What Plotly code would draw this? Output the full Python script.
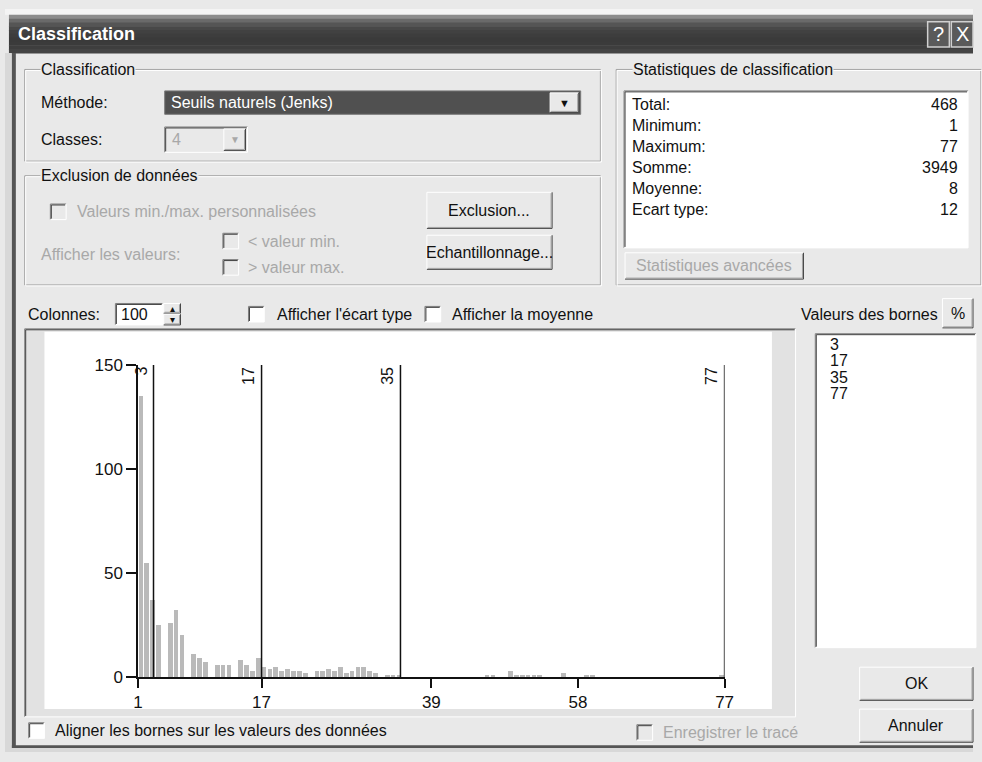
import plotly.graph_objects as go

W, H = 982, 762

# ---------------- data ----------------
x_min, x_max = 1, 77
n_columns = 100
column_counts = [
    135, 55, 37, 25, 0, 26, 32, 20, 0, 11,
    9, 7, 0, 6, 6, 6, 0, 8, 6, 3,
    9, 5, 4, 5, 3, 4, 3, 3, 2, 0,
    3, 3, 4, 3, 5, 2, 3, 5, 5, 3,
    2, 0, 1, 1, 1, 0, 0, 0, 0, 0,
    0, 0, 0, 0, 0, 0, 0, 0, 0, 1,
    1, 0, 0, 3, 1, 1, 1, 1, 1, 0,
    0, 0, 2, 0, 0, 0, 1, 1, 0, 0,
    0, 0, 0, 0, 0, 0, 0, 0, 0, 0,
    0, 0, 0, 0, 0, 0, 0, 0, 0, 1,
]
break_values = [3, 17, 35, 77]
x_tick_values = [1, 17, 39, 58, 77]
y_tick_values = [0, 50, 100, 150]
stat_labels = ["Total:", "Minimum:", "Maximum:", "Somme:", "Moyenne:", "Ecart type:"]
stat_values = [468, 1, 77, 3949, 8, 12]
method_name = "Seuils naturels (Jenks)"
n_classes = 4
n_columns_label = 100

# ---------------- helpers ----------------
FONT = "Liberation Sans Narrow, Liberation Sans, Arial, sans-serif"
BG = "#e9e9e9"
shapes, annots = [], []


def px(x):
    return x / W


def py(y):
    return 1 - y / H


def rect(x0, y0, x1, y1, fill=None, line=None, lw=1, layer="below"):
    shapes.append(dict(type="rect", xref="paper", yref="paper",
                       x0=px(x0), x1=px(x1), y0=py(y1), y1=py(y0),
                       fillcolor=fill if fill else "rgba(0,0,0,0)",
                       line=dict(color=line if line else "rgba(0,0,0,0)", width=lw if line else 0),
                       layer=layer))


def seg(x0, y0, x1, y1, color, lw=1, layer="below"):
    shapes.append(dict(type="line", xref="paper", yref="paper",
                       x0=px(x0), x1=px(x1), y0=py(y0), y1=py(y1),
                       line=dict(color=color, width=lw), layer=layer))


def text(x, y, s, size=16, color="#111", anchor="left", bold=False, bg=None):
    annots.append(dict(x=px(x), y=py(y), xref="paper", yref="paper", text=("<b>%s</b>" % s) if bold else s,
                       showarrow=False, xanchor=anchor, yanchor="middle",
                       font=dict(family=FONT, size=size, color=color),
                       bgcolor=bg, borderpad=0))


def raised(x0, y0, x1, y1, label=None, disabled=False, size=16):
    rect(x0, y0, x1, y1, fill=BG)
    seg(x0, y0, x1, y0, "#ffffff")
    seg(x0, y0, x0, y1, "#ffffff")
    seg(x0, y1, x1, y1, "#404040")
    seg(x1, y0, x1, y1, "#404040")
    seg(x0 + 1, y1 - 1, x1 - 1, y1 - 1, "#a0a0a0")
    seg(x1 - 1, y0 + 1, x1 - 1, y1 - 1, "#a0a0a0")
    if label:
        text((x0 + x1) / 2, (y0 + y1) / 2, label, size=size,
             color="#a8a8a8" if disabled else "#111", anchor="center")


def sunken(x0, y0, x1, y1, fill="#ffffff"):
    rect(x0, y0, x1, y1, fill=fill)
    seg(x0, y0, x1, y0, "#808080")
    seg(x0, y0, x0, y1, "#808080")
    seg(x0 + 1, y0 + 1, x1 - 1, y0 + 1, "#404040")
    seg(x0 + 1, y0 + 1, x0 + 1, y1 - 1, "#404040")
    seg(x0, y1, x1, y1, "#ffffff")
    seg(x1, y0, x1, y1, "#ffffff")


def checkbox(x, yc, disabled=False):
    sunken(x, yc - 8, x + 16, yc + 8, fill="#e9e9e9" if disabled else "#ffffff")


def group(x0, y0, x1, y1, label):
    rect(x0, y0, x1, y1, line="#a0a0a0", lw=1)
    rect(x0 + 1, y0 + 1, x1 + 1, y1 + 1, line="#ffffff", lw=1)
    text(x0 + 16, y0, label, bg=BG)


# ---------------- window chrome ----------------
rect(0, 0, W, H, fill=BG)
rect(0, 0, W, 6, fill="#f4f4f4")
title_cols = ["#8c8c8c", "#6a6a6a", "#555555", "#484848", "#414141", "#3d3d3d",
              "#3a3a3a", "#3b3b3b", "#3e3e3e", "#444444"]
band = 39 / len(title_cols)
for i, c in enumerate(title_cols):
    rect(4, 6 + i * band, W, 6 + (i + 1) * band + 0.6, fill=c)
text(12, 26, "Classification", size=18, color="#ffffff", bold=True)
for bx, lab in [(936, "?"), (960, "X")]:
    rect(bx, 13, bx + 22, 39, fill="#5a5a5a", line="#d0d0d0", lw=1.5)
    text(bx + 11, 26, lab, size=20, color="#ffffff", anchor="center")
rect(0, 45, 7, H, fill="#d8d8d8")
rect(7, 45, 11, 758, fill="#555555")
rect(7, 755, W, 758, fill="#555555")
rect(0, 758, W, H, fill="#d8d8d8")

# ---------------- classification group ----------------
group(20, 62, 604, 156, "Classification")
text(35, 96, "Méthode:")
rect(162, 84, 584, 108, fill="#505050", line="#7a7a7a")
text(167, 96, method_name, color="#ffffff")
raised(553, 86, 582, 106, "▼", size=11)
text(35, 134, "Classes:")
sunken(162, 121, 246, 147, fill="#e9e9e9")
text(168, 134, str(n_classes), color="#a8a8a8")
raised(222, 123, 244, 145, "▼", disabled=True, size=10)

# ---------------- exclusion group ----------------
group(20, 171, 604, 283, "Exclusion de données")
checkbox(46, 208, disabled=True)
text(72, 208, "Valeurs min./max. personnalisées", color="#a8a8a8")
raised(428, 188, 555, 225, "Exclusion...")
text(35, 252, "Afficher les valeurs:", color="#a8a8a8")
checkbox(221, 238, disabled=True)
text(245, 238, "< valeur min.", color="#a8a8a8")
checkbox(221, 265, disabled=True)
text(245, 265, "> valeur max.", color="#a8a8a8")
raised(428, 232, 555, 267, "Echantillonnage...")

# ---------------- statistics group ----------------
group(620, 62, 990, 283, "Statistiques de classification")
sunken(628, 84, 977, 245)
for i, (lab, val) in enumerate(zip(stat_labels, stat_values)):
    yy = 98 + i * 21.6
    text(635, yy, lab)
    text(968, yy, str(val), anchor="right")
raised(629, 250, 810, 277, "Statistiques avancées", disabled=True)

# ---------------- chart controls ----------------
text(22, 313, "Colonnes:")
sunken(112, 302, 160, 324)
text(117, 313, str(n_columns_label))
raised(161, 302, 178, 312, "▴", size=10)
raised(161, 313, 178, 324, "▾", size=10)
checkbox(247, 313)
text(275, 313, "Afficher l'écart type")
checkbox(426, 313)
text(452, 313, "Afficher la moyenne")
text(807, 313, "Valeurs des bornes")
raised(951, 297, 982, 327, "%")

# chart panel
sunken(20, 328, 802, 726, fill="#e2e2e2")
rect(40, 331, 778, 718, fill="#ffffff")

# bounds list
sunken(822, 333, 985, 655)
for i, b in enumerate(break_values):
    text(836, 344 + i * 16.8, str(b))

raised(867, 675, 982, 709, "OK")
raised(867, 718, 982, 752, "Annuler")
checkbox(24, 740)
text(50, 740, "Aligner les bornes sur les valeurs des données")
checkbox(641, 742, disabled=True)
text(667, 742, "Enregistrer le tracé", color="#a8a8a8")

# ---------------- histogram ----------------
col_w = (x_max - x_min) / n_columns
centers = [x_min + (i + 0.5) * col_w for i in range(n_columns)]

fig = go.Figure()
fig.add_trace(go.Bar(x=centers, y=column_counts, width=col_w * 0.8,
                     marker=dict(color="#bababa", line=dict(width=0)),
                     hoverinfo="x+y", showlegend=False))

for b in break_values:
    shapes.append(dict(type="line", xref="x", yref="y", x0=b, x1=b, y0=0, y1=150,
                       line=dict(color="#111111", width=1.5), layer="above"))
    annots.append(dict(x=b, y=150, xref="x", yref="y", text=str(b), showarrow=False,
                       textangle=-90, xanchor="right", yanchor="top", xshift=-2,
                       font=dict(family=FONT, size=16, color="#111")))

x_dom = [135 / W, 730 / W]
y_dom = [py(685), py(365)]
fig.update_layout(
    width=W, height=H, margin=dict(l=0, r=0, t=0, b=0),
    paper_bgcolor=BG, plot_bgcolor="rgba(0,0,0,0)",
    shapes=shapes, annotations=annots, bargap=0,
    xaxis=dict(domain=x_dom, range=[x_min, x_max], tickvals=x_tick_values,
               ticktext=[str(v) for v in x_tick_values], showgrid=False, zeroline=False,
               showline=True, linecolor="#111", linewidth=1.5, ticks="outside",
               ticklen=9, tickcolor="#111", tickwidth=1.5,
               tickfont=dict(family=FONT, size=17, color="#111"), fixedrange=True),
    yaxis=dict(domain=y_dom, range=[0, 150], tickvals=y_tick_values, showgrid=False,
               zeroline=False, showline=True, linecolor="#111", linewidth=1.5,
               ticks="outside", ticklen=10, tickcolor="#111", tickwidth=1.5,
               tickfont=dict(family=FONT, size=17, color="#111"), fixedrange=True),
    font=dict(family=FONT),
)

fig.write_html(
    "out.html",
    config={"displayModeBar": False},
    post_script="document.body.style.margin='0';document.body.style.overflow='hidden';",
)
